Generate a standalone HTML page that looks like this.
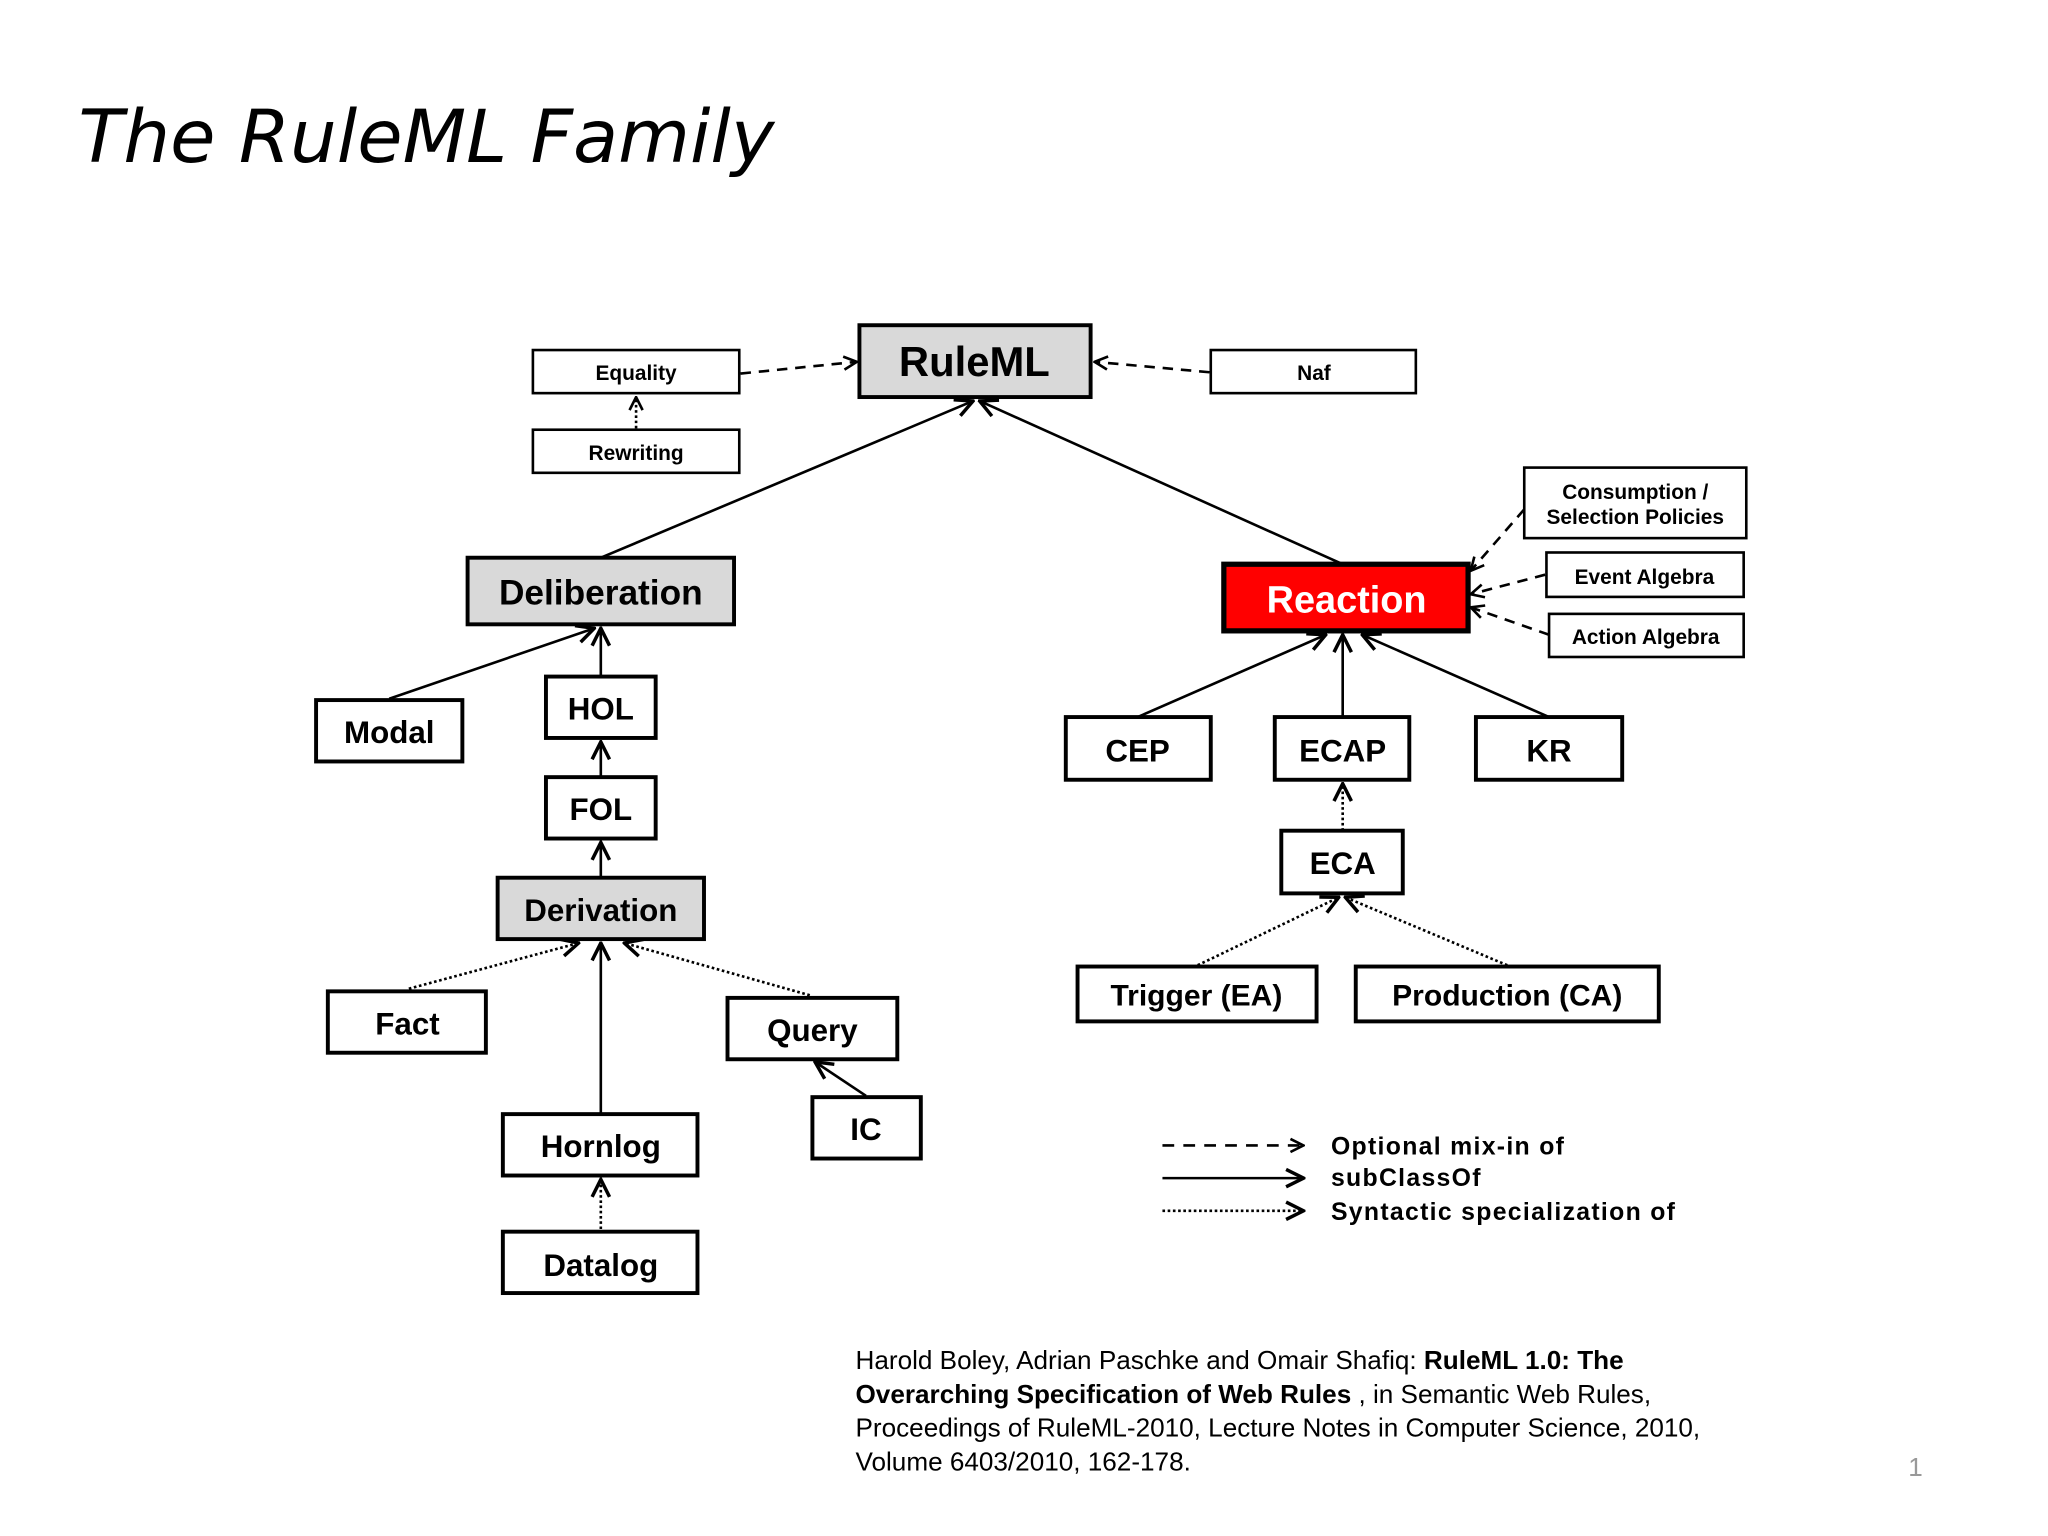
<!DOCTYPE html>
<html><head><meta charset="utf-8"><style>
html,body{margin:0;padding:0;background:#fff;}
svg{display:block;}
.b{font-family:"Liberation Sans",Arial,sans-serif;font-weight:bold;fill:#000;text-anchor:middle;}
</style></head><body>
<svg width="2048" height="1536" viewBox="0 0 1568 1176" preserveAspectRatio="none" xmlns="http://www.w3.org/2000/svg">
<defs>
<marker id="a" viewBox="0 0 12 12" refX="11" refY="6" markerWidth="12" markerHeight="12" markerUnits="userSpaceOnUse" orient="auto">
<path d="M1,1 L11,6 L1,11" fill="none" stroke="#000" stroke-width="2"/>
</marker>
<marker id="a2" viewBox="0 0 12 12" refX="11" refY="6" markerWidth="16" markerHeight="16" markerUnits="userSpaceOnUse" orient="auto">
<path d="M1,1 L11,6 L1,11" fill="none" stroke="#000" stroke-width="2"/>
</marker>
</defs>
<text x="60" y="124" font-family="DejaVu Sans,Liberation Sans,sans-serif" font-style="italic" font-size="56" textLength="533" lengthAdjust="spacingAndGlyphs">The RuleML Family</text>

<g stroke="#000" stroke-width="2" fill="none">
<!-- solid -->
<line x1="460" y1="427" x2="745" y2="307" marker-end="url(#a2)"/>
<line x1="1028" y1="432" x2="750" y2="307" marker-end="url(#a2)"/>
<line x1="298" y1="535" x2="455" y2="481" marker-end="url(#a2)"/>
<line x1="460" y1="518" x2="460" y2="481" marker-end="url(#a2)"/>
<line x1="460" y1="595" x2="460" y2="568" marker-end="url(#a2)"/>
<line x1="460" y1="672" x2="460" y2="645" marker-end="url(#a2)"/>
<line x1="460" y1="853" x2="460" y2="722" marker-end="url(#a2)"/>
<line x1="663" y1="839" x2="624" y2="813" marker-end="url(#a2)"/>
<line x1="871" y1="549" x2="1015" y2="486" marker-end="url(#a2)"/>
<line x1="1028" y1="549" x2="1028" y2="486" marker-end="url(#a2)"/>
<line x1="1186" y1="549" x2="1043" y2="486" marker-end="url(#a2)"/>
<!-- dashed -->
<g stroke-dasharray="8,6">
<line x1="567" y1="286" x2="656" y2="277" marker-end="url(#a)"/>
<line x1="926" y1="285" x2="838" y2="277" marker-end="url(#a)"/>
<line x1="1167" y1="390" x2="1126" y2="437" marker-end="url(#a)"/>
<line x1="1183" y1="440" x2="1126" y2="455" marker-end="url(#a)"/>
<line x1="1186" y1="486" x2="1126" y2="465" marker-end="url(#a)"/>
</g>
<!-- dotted -->
<g stroke-dasharray="2,2">
<line x1="487" y1="328" x2="487" y2="304" marker-end="url(#a)"/>
<line x1="313" y1="757" x2="443" y2="722" marker-end="url(#a2)"/>
<line x1="620" y1="762" x2="478" y2="722" marker-end="url(#a2)"/>
<line x1="460" y1="941" x2="460" y2="903" marker-end="url(#a2)"/>
<line x1="1028" y1="636" x2="1028" y2="600" marker-end="url(#a2)"/>
<line x1="917" y1="739" x2="1025" y2="687" marker-end="url(#a2)"/>
<line x1="1154" y1="739" x2="1030" y2="687" marker-end="url(#a2)"/>
</g>
<!-- legend -->
<line x1="890" y1="877" x2="998" y2="877" stroke-dasharray="9,7" marker-end="url(#a)"/>
<line x1="890" y1="902" x2="998" y2="902" marker-end="url(#a2)"/>
<line x1="890" y1="927" x2="998" y2="927" stroke-dasharray="2,2" marker-end="url(#a2)"/>
</g>

<g stroke="#000" stroke-width="3">
<rect x="658" y="249" width="177" height="55" fill="#d9d9d9"/>
<rect x="408" y="268" width="158" height="33" fill="#fff" stroke-width="2"/>
<rect x="408" y="329" width="158" height="33" fill="#fff" stroke-width="2"/>
<rect x="927" y="268" width="157" height="33" fill="#fff" stroke-width="2"/>
<rect x="358" y="427" width="204" height="51" fill="#d9d9d9"/>
<rect x="937" y="432" width="187" height="51" fill="#ff0000" stroke-width="4"/>
<rect x="1167" y="358" width="170" height="54" fill="#fff" stroke-width="2"/>
<rect x="1184" y="423" width="151" height="34" fill="#fff" stroke-width="2"/>
<rect x="1186" y="470" width="149" height="33" fill="#fff" stroke-width="2"/>
<rect x="242" y="536" width="112" height="47" fill="#fff"/>
<rect x="418" y="518" width="84" height="47" fill="#fff"/>
<rect x="418" y="595" width="84" height="47" fill="#fff"/>
<rect x="381" y="672" width="158" height="47" fill="#d9d9d9"/>
<rect x="251" y="759" width="121" height="47" fill="#fff"/>
<rect x="557" y="764" width="130" height="47" fill="#fff"/>
<rect x="622" y="840" width="83" height="47" fill="#fff"/>
<rect x="385" y="853" width="149" height="47" fill="#fff"/>
<rect x="385" y="943" width="149" height="47" fill="#fff"/>
<rect x="816" y="549" width="111" height="48" fill="#fff"/>
<rect x="976" y="549" width="103" height="48" fill="#fff"/>
<rect x="1130" y="549" width="112" height="48" fill="#fff"/>
<rect x="981" y="636" width="93" height="48" fill="#fff"/>
<rect x="825" y="740" width="183" height="42" fill="#fff"/>
<rect x="1038" y="740" width="232" height="42" fill="#fff"/>
</g>

<g class="b">
<text x="746" y="288" font-size="32">RuleML</text>
<text x="487" y="291" font-size="16">Equality</text>
<text x="487" y="352" font-size="16">Rewriting</text>
<text x="1006" y="291" font-size="16">Naf</text>
<text x="460" y="463" font-size="27">Deliberation</text>
<text x="1031" y="469" font-size="29" style="fill:#fff">Reaction</text>
<text x="1252" y="382" font-size="16">Consumption /</text>
<text x="1252" y="401" font-size="16">Selection Policies</text>
<text x="1259" y="447" font-size="16">Event Algebra</text>
<text x="1260" y="493" font-size="16">Action Algebra</text>
<text x="298" y="569" font-size="24">Modal</text>
<text x="460" y="551" font-size="24">HOL</text>
<text x="460" y="628" font-size="24">FOL</text>
<text x="460" y="705" font-size="24">Derivation</text>
<text x="312" y="792" font-size="24">Fact</text>
<text x="622" y="797" font-size="24">Query</text>
<text x="663" y="873" font-size="24">IC</text>
<text x="460" y="886" font-size="24">Hornlog</text>
<text x="460" y="977" font-size="24">Datalog</text>
<text x="871" y="583" font-size="24">CEP</text>
<text x="1028" y="583" font-size="24">ECAP</text>
<text x="1186" y="583" font-size="24">KR</text>
<text x="1028" y="669" font-size="24">ECA</text>
<text x="916" y="770" font-size="23">Trigger (EA)</text>
<text x="1154" y="770" font-size="23">Production (CA)</text>
</g>
<g font-family="Liberation Sans,Arial,sans-serif" font-weight="bold" font-size="19" letter-spacing="1">
<text x="1019" y="884">Optional mix-in of</text>
<text x="1019" y="908">subClassOf</text>
<text x="1019" y="934">Syntactic specialization of</text>
</g>
<g font-family="Liberation Sans,Arial,sans-serif" font-size="20">
<text x="655" y="1048">Harold Boley, Adrian Paschke and Omair Shafiq: <tspan font-weight="bold">RuleML 1.0: The</tspan></text>
<text x="655" y="1074"><tspan font-weight="bold">Overarching Specification of Web Rules</tspan> , in Semantic Web Rules,</text>
<text x="655" y="1100">Proceedings of RuleML-2010,  Lecture Notes in Computer Science, 2010,</text>
<text x="655" y="1126">Volume 6403/2010, 162-178.</text>
</g>
<text x="1461" y="1130" font-family="Liberation Sans,sans-serif" font-size="20" fill="#999">1</text>
</svg>
</body></html>
